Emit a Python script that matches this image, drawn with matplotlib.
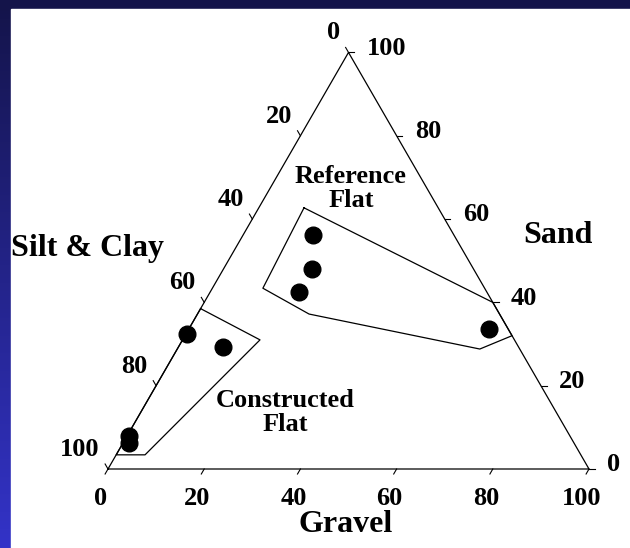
import numpy as np
import matplotlib
matplotlib.use("Agg")
import matplotlib.pyplot as plt
from matplotlib.patches import Rectangle

plt.rcParams['font.family'] = ['Liberation Serif', 'DejaVu Serif']
plt.rcParams['font.weight'] = 'bold'

# sample composition (percent): gravel, sand (silt & clay = rest)
gravel = [14.5, 18.4, 18.5, 62.4, 0.2, 9.3, 0.4, 1.3]
sand = [56.2, 48.0, 42.5, 33.6, 32.4, 29.3, 7.9, 6.2]

# outline of the reference flat
ref_gravel = [9.4, 60.0, 68.0, 62.9, 23.2, 10.5]
ref_sand = [62.7, 40.0, 32.0, 28.8, 37.2, 43.4]

# outline of the constructed flat
con_gravel = [0.0, 16.1, 6.0, 0.0]
con_sand = [38.5, 31.0, 3.4, 3.4]

ticks = [0, 20, 40, 60, 80, 100]

h = np.sqrt(3) / 2


def tern(g, s):
    g = np.asarray(g, float) / 100
    s = np.asarray(s, float) / 100
    return g + s / 2, s * h


fig = plt.figure(figsize=(6.3, 5.48), dpi=100)
ax = fig.add_axes([0, 0, 1, 1])
ax.set_xlim(-108 / 481, (630 - 108) / 481)
ax.set_ylim(-(548 - 469) / 481, 469 / 481)
ax.axis("off")

# slide style background: navy band on top, blue gradient on the left
grad = np.linspace(0, 1, 256).reshape(-1, 1)
cmap = matplotlib.colors.LinearSegmentedColormap.from_list("bg", ["#3333c8", "#14144a"])
ax.imshow(grad, extent=[0, 1, 0, 1], transform=ax.transAxes, cmap=cmap,
          aspect="auto", origin="lower", zorder=0)
ax.add_patch(Rectangle((0, 0.9835), 1, 0.02, transform=ax.transAxes,
                       color="#14144a", zorder=0.5))
ax.add_patch(Rectangle((11 / 630, 0), 1, 1 - 9 / 548, transform=ax.transAxes,
                       color="white", zorder=1))

# triangle
tx, ty = tern([0, 100, 0, 0], [0, 0, 100, 0])
ax.plot(tx, ty, color="black", lw=0.9, zorder=3)

tl = 0.012
fs = 19
for t in ticks:
    # gravel (bottom)
    x0, y0 = tern(t, 0)
    ax.plot([x0, x0 - tl / 2], [y0, y0 - tl * h], color="black", lw=0.8, zorder=3)
    ax.annotate(str(t), (x0, y0), xytext=(-5, -21), textcoords="offset points",
                ha="center", va="center", fontsize=fs, fontweight="bold", zorder=4)
    # sand (right side)
    x0, y0 = tern(100 - t, t)
    ax.plot([x0, x0 + tl], [y0, y0], color="black", lw=0.8, zorder=3)
    ax.annotate(str(t), (x0, y0), xytext=(13, 3), textcoords="offset points",
                ha="left", va="center", fontsize=fs, fontweight="bold", zorder=4)
    # silt & clay (left side)
    x0, y0 = tern(0, 100 - t)
    ax.plot([x0, x0 - tl / 2], [y0, y0 + tl * h], color="black", lw=0.8, zorder=3)
    ax.annotate(str(t), (x0, y0), xytext=(-6, 14), textcoords="offset points",
                ha="right", va="center", fontsize=fs, fontweight="bold", zorder=4)

# outlines
px, py = tern(ref_gravel + ref_gravel[:1], ref_sand + ref_sand[:1])
ax.plot(px, py, color="black", lw=0.9, zorder=3)
px, py = tern(con_gravel + con_gravel[:1], con_sand + con_sand[:1])
ax.plot(px, py, color="black", lw=0.9, zorder=3)

# samples
px, py = tern(gravel, sand)
ax.plot(px, py, "o", color="black", ms=12, zorder=5)

ax.text(0.505, 0.584, "Reference\nFlat", ha="center", va="center",
        fontsize=19, fontweight="bold", linespacing=1.05, zorder=4)
ax.text(0.368, 0.118, "Constructed\nFlat", ha="center", va="center",
        fontsize=19, fontweight="bold", linespacing=1.05, zorder=4)
ax.text(0.936, 0.486, "Sand", ha="center", va="center",
        fontsize=23, fontweight="bold", zorder=4)
ax.text(-0.042, 0.459, "Silt & Clay", ha="center", va="center",
        fontsize=23, fontweight="bold", zorder=4)
ax.text(0.493, -0.116, "Gravel", ha="center", va="center",
        fontsize=23, fontweight="bold", zorder=4)

fig.savefig("out.png", dpi=100)
